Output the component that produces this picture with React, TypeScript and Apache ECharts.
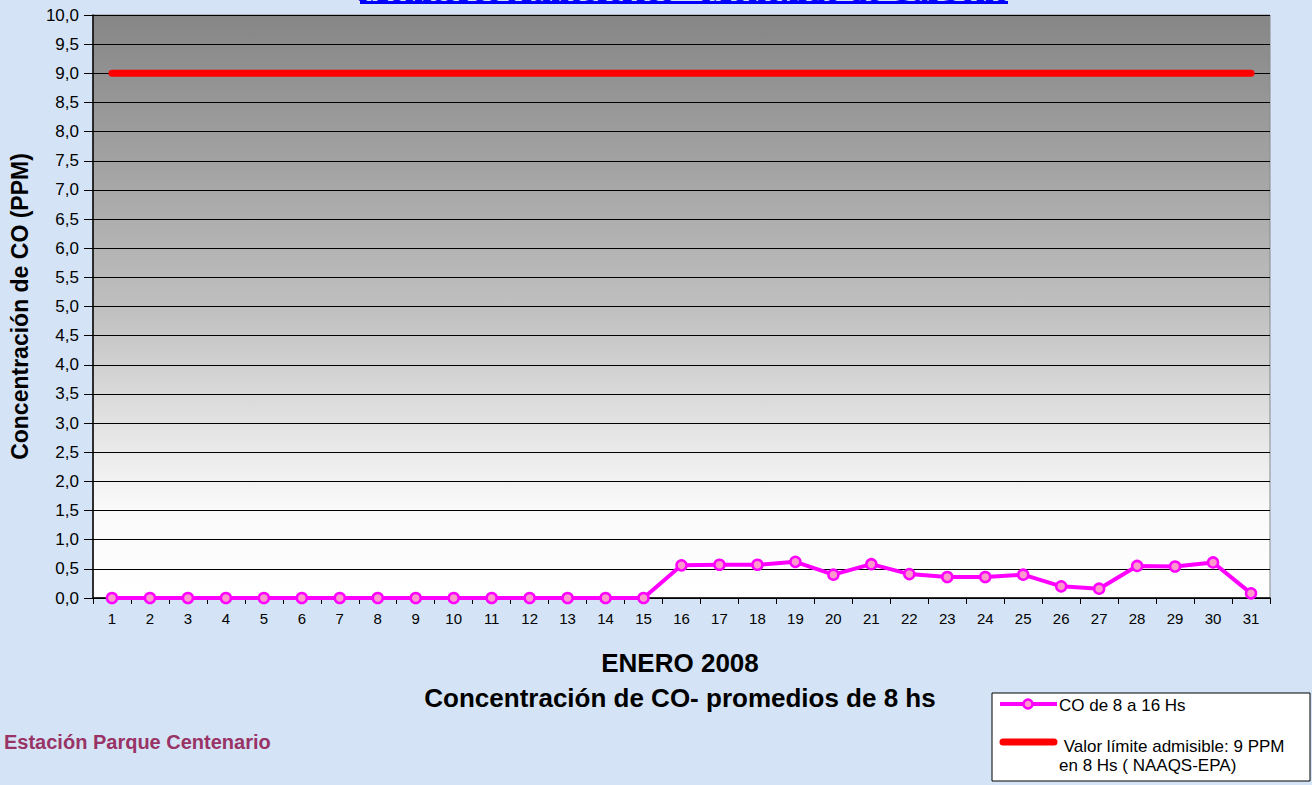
import React, { useEffect, useRef } from "react";
import * as echarts from "echarts";

const days = Array.from({ length: 31 }, (_, i) => String(i + 1));
const coValues = [
  0, 0, 0, 0, 0, 0, 0, 0, 0, 0, 0, 0, 0, 0, 0,
  0.56, 0.57, 0.57, 0.62, 0.4, 0.58, 0.41, 0.36, 0.36, 0.4, 0.2, 0.16, 0.55, 0.54, 0.61, 0.08,
];
const limitValues = days.map(() => 9);
const seriesNames = ["CO de 8 a 16 Hs", " Valor límite admisible: 9 PPM\nen 8 Hs ( NAAQS-EPA)"];

const SANS = "'Liberation Sans', Arial, sans-serif";

export default function App() {
  const ref = useRef<HTMLDivElement>(null);
  useEffect(() => {
    const chart = echarts.init(ref.current!, null, { renderer: "svg" });
    chart.setOption({
      animation: false,
      backgroundColor: "#d4e4f6",
      textStyle: { fontFamily: SANS },
      grid: {
        left: 91,
        right: 42,
        top: 15,
        bottom: 187,
        show: true,
        borderColor: "#888",
        borderWidth: 1,
        backgroundColor: new echarts.graphic.LinearGradient(0, 0, 0, 1, [
          { offset: 0, color: "#868686" },
          { offset: 0.25, color: "#a2a2a2" },
          { offset: 0.5, color: "#bfbfbf" },
          { offset: 0.7, color: "#e2e2e2" },
          { offset: 0.85, color: "#fafafa" },
          { offset: 1, color: "#ffffff" },
        ]),
      },
      xAxis: {
        type: "category",
        data: days,
        boundaryGap: true,
        axisLine: { lineStyle: { color: "#000", width: 1.5 } },
        axisTick: { show: true, length: 6, lineStyle: { color: "#000" } },
        axisLabel: { color: "#000", fontSize: 15, margin: 13, interval: 0 },
        splitLine: { show: false },
      },
      yAxis: {
        type: "value",
        min: 0,
        max: 10,
        interval: 0.5,
        name: "Concentración de CO (PPM)",
        nameLocation: "middle",
        nameGap: 62,
        nameTextStyle: { color: "#000", fontSize: 23, fontWeight: "bold" },
        axisLine: { show: true, lineStyle: { color: "#000", width: 1.5 } },
        axisTick: { show: true, length: 9, lineStyle: { color: "#000" } },
        axisLabel: {
          color: "#000",
          fontSize: 17,
          margin: 14,
          formatter: (v: number) => v.toFixed(1).replace(".", ","),
        },
        splitLine: { show: true, lineStyle: { color: "#000", width: 1 } },
      },
      series: [
        {
          name: seriesNames[0],
          type: "line",
          data: coValues,
          symbol: "circle",
          symbolSize: 10,
          lineStyle: { color: "#ff00ff", width: 4 },
          itemStyle: { color: "#ff99cc", borderColor: "#ff00ff", borderWidth: 2.5 },
          z: 3,
        },
        {
          name: seriesNames[1],
          type: "line",
          data: limitValues,
          showSymbol: false,
          symbol: "none",
          lineStyle: { color: "#ff0000", width: 7, cap: "round" },
          itemStyle: { color: "#ff0000" },
          z: 2,
        },
      ],
      graphic: [
        {
          type: "text",
          x: 684,
          y: -10,
          style: {
            text: "Monitoreo Atmosférico - Monóxido de Carbono",
            fill: "#0000ff",
            font: "bold 32px 'Liberation Serif', 'Times New Roman', serif",
            align: "center",
            verticalAlign: "middle",
          },
        },
        { type: "rect", shape: { x: 360, y: 1, width: 648, height: 3 }, style: { fill: "#0000ff" } },
        {
          type: "text",
          x: 680,
          y: 663,
          style: {
            text: "ENERO 2008",
            fill: "#000",
            font: `bold 26px ${SANS}`,
            align: "center",
            verticalAlign: "middle",
          },
        },
        {
          type: "text",
          x: 680,
          y: 698,
          style: {
            text: "Concentración de CO- promedios de 8 hs",
            fill: "#000",
            font: `bold 26px ${SANS}`,
            align: "center",
            verticalAlign: "middle",
          },
        },
        {
          type: "text",
          x: 4,
          y: 742,
          style: {
            text: "Estación Parque Centenario",
            fill: "#993366",
            font: `bold 20px ${SANS}`,
            align: "left",
            verticalAlign: "middle",
          },
        },
        // legend
        {
          type: "rect",
          shape: { x: 992, y: 693, width: 318, height: 88 },
          style: { fill: "#fff", stroke: "#000", lineWidth: 1 },
        },
        {
          type: "line",
          shape: { x1: 1000, y1: 704, x2: 1057, y2: 704 },
          style: { stroke: "#ff00ff", lineWidth: 4 },
        },
        {
          type: "circle",
          shape: { cx: 1028, cy: 704, r: 4.5 },
          style: { fill: "#ff99cc", stroke: "#ff00ff", lineWidth: 2.5 },
        },
        {
          type: "text",
          x: 1059,
          y: 705,
          style: {
            text: seriesNames[0],
            fill: "#000",
            font: `17px ${SANS}`,
            align: "left",
            verticalAlign: "middle",
          },
        },
        {
          type: "line",
          shape: { x1: 1003, y1: 742, x2: 1054, y2: 742 },
          style: { stroke: "#ff0000", lineWidth: 7, lineCap: "round" },
        },
        {
          type: "text",
          x: 1059,
          y: 756,
          style: {
            text: seriesNames[1],
            fill: "#000",
            font: `17px ${SANS}`,
            lineHeight: 19,
            align: "left",
            verticalAlign: "middle",
          },
        },
      ],
    });
    return () => chart.dispose();
  }, []);
  return <div ref={ref} style={{ width: 1312, height: 785, position: "absolute", left: 0, top: 0 }} />;
}
